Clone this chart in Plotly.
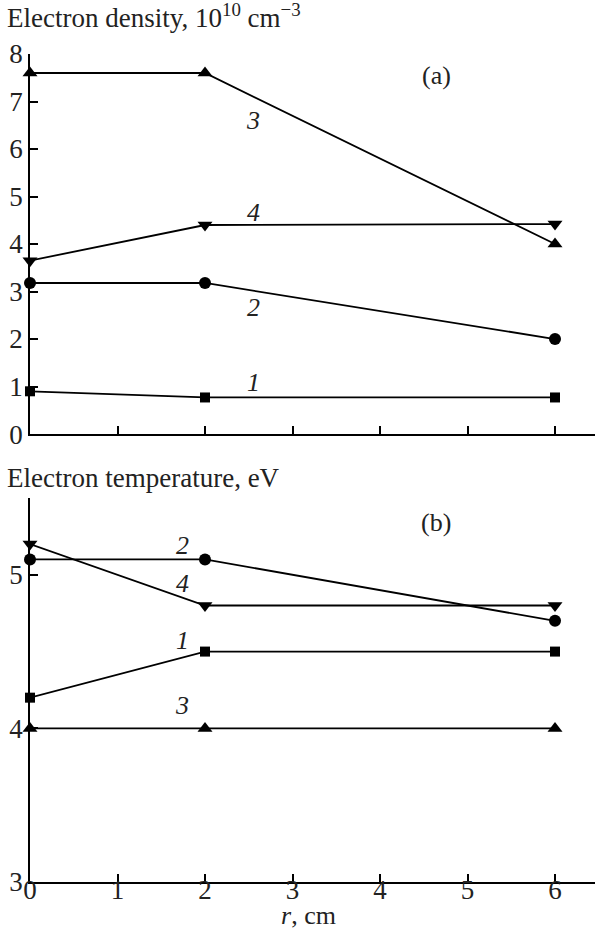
import plotly.graph_objects as go

r = [0, 2, 6]

# (a) Electron density, 1e10 cm^-3
dens_1 = [0.9, 0.77, 0.77]
dens_2 = [3.18, 3.18, 2.0]
dens_3 = [7.6, 7.6, 4.0]
dens_4 = [3.65, 4.4, 4.42]

# (b) Electron temperature, eV
temp_1 = [4.2, 4.5, 4.5]
temp_2 = [5.1, 5.1, 4.7]
temp_3 = [4.0, 4.0, 4.0]
temp_4 = [5.2, 4.8, 4.8]

curve_names = ["1", "2", "3", "4"]
symbols = ["square", "circle", "triangle-up", "triangle-down"]
sizes = [10, 12, 13, 13]

# curve label positions (r, value)
dens_label_pos = [(2.55, 1.09), (2.55, 2.67), (2.55, 6.6), (2.55, 4.67)]
temp_label_pos = [(1.74, 4.57), (1.74, 5.19), (1.74, 4.15), (1.74, 4.94)]

FONT = "Liberation Serif"
FS = 26
TICKFS = 27
TXT = "#222222"

fig = go.Figure()

dens = [dens_1, dens_2, dens_3, dens_4]
temps = [temp_1, temp_2, temp_3, temp_4]

for i in range(4):
    fig.add_trace(go.Scatter(
        x=r, y=dens[i], mode="lines+markers", xaxis="x", yaxis="y",
        line=dict(color="black", width=1.8),
        marker=dict(symbol=symbols[i], size=sizes[i], color="black"),
        cliponaxis=False, showlegend=False))
    fig.add_trace(go.Scatter(
        x=r, y=temps[i], mode="lines+markers", xaxis="x2", yaxis="y2",
        line=dict(color="black", width=1.8),
        marker=dict(symbol=symbols[i], size=sizes[i], color="black"),
        cliponaxis=False, showlegend=False))

annotations = []
for i in range(4):
    annotations.append(dict(x=dens_label_pos[i][0], y=dens_label_pos[i][1], xref="x", yref="y",
                            text="<i>" + curve_names[i] + "</i>", showarrow=False,
                            font=dict(family=FONT, size=FS, color=TXT)))
    annotations.append(dict(x=temp_label_pos[i][0], y=temp_label_pos[i][1], xref="x2", yref="y2",
                            text="<i>" + curve_names[i] + "</i>", showarrow=False,
                            font=dict(family=FONT, size=FS, color=TXT)))

annotations += [
    dict(x=-0.0442, y=1.0459, xref="paper", yref="paper", xanchor="left", yanchor="middle",
         text="Electron density, 10<sup>10</sup> cm<sup>−3</sup>", showarrow=False,
         font=dict(family=FONT, size=27, color=TXT)),
    dict(x=-0.0442, y=0.4879, xref="paper", yref="paper", xanchor="left", yanchor="middle",
         text="Electron temperature, eV", showarrow=False,
         font=dict(family=FONT, size=27, color=TXT)),
    dict(x=4.64, y=7.54, xref="x", yref="y", text="(a)", showarrow=False,
         font=dict(family=FONT, size=FS, color=TXT)),
    dict(x=4.64, y=5.34, xref="x2", yref="y2", text="(b)", showarrow=False,
         font=dict(family=FONT, size=FS, color=TXT)),
    dict(x=3.18, y=-0.0590, xref="x2", yref="paper", yanchor="bottom",
         text="<i>r</i>, cm", showarrow=False, borderpad=0,
         font=dict(family=FONT, size=FS, color=TXT)),
]

axis_common = dict(showline=True, linecolor="black", linewidth=1.8, showgrid=False,
                   zeroline=False, ticks="inside", ticklen=8, tickwidth=1.5, tickcolor="black",
                   tickfont=dict(family=FONT, size=TICKFS, color=TXT))

fig.update_layout(
    width=595, height=931,
    margin=dict(l=30, r=0, t=54, b=49),
    plot_bgcolor="white", paper_bgcolor="white",
    xaxis=dict(domain=[0, 1], range=[0, 6.457], anchor="y", tickvals=[1, 2, 3, 4, 5, 6],
               showticklabels=False, **axis_common),
    yaxis=dict(domain=[0.541, 1], range=[0, 8], anchor="x", tickvals=[0, 1, 2, 3, 4, 5, 6, 7, 8],
               **axis_common),
    xaxis2=dict(domain=[0, 1], range=[0, 6.457], anchor="y2", tickvals=[0, 1, 2, 3, 4, 5, 6],
                ticklabelstandoff=-17, **axis_common),
    yaxis2=dict(domain=[0, 0.4638], range=[3, 5.5], anchor="x2", tickvals=[3, 4, 5],
                **axis_common),
    annotations=annotations,
)

fig.write_html("out.html")
